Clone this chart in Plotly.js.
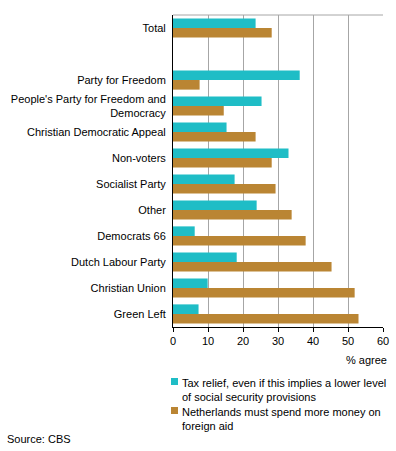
<!DOCTYPE html>
<html><head><meta charset="utf-8">
<script src="https://cdn.plot.ly/plotly-3.0.1.min.js"></script>
<style>html,body{margin:0;padding:0;background:#fff}#c{width:396px;height:451px}</style>
</head><body><div id="c"></div>
<script>
const categories = ["Total", " ", "Party for Freedom", "People's Party for Freedom and<br>Democracy",
  "Christian Democratic Appeal", "Non-voters", "Socialist Party", "Other", "Democrats 66",
  "Dutch Labour Party", "Christian Union", "Green Left"];
const taxRelief = [23.6, null, 36.2, 25.3, 15.3, 33.0, 17.6, 23.9, 6.2, 18.2, 9.9, 7.3];
const foreignAid = [28.2, null, 7.6, 14.5, 23.6, 28.2, 29.3, 33.9, 37.9, 45.3, 51.9, 53.0];
const seriesNames = ["Tax relief, even if this implies a lower level<br>of social security provisions",
  "Netherlands must spend more money on<br>foreign aid"];
const xTicks = [0, 10, 20, 30, 40, 50, 60];
const xAxisLabel = "% agree";
const source = "Source: CBS";
const colors = ["#1FBDC6", "#BA8533"];

const W = 396, H = 451, L = 173, T = 15, PW = 210, PH = 312;
const px = x => (x - L) / PW;
const py = y => (T + PH - y) / PH;
const font = {family: "Arial, 'Liberation Sans', sans-serif", size: 11, color: "#000"};

const traces = [taxRelief, foreignAid].map((vals, i) => ({
  type: "bar", orientation: "h", y: categories, x: vals, name: seriesNames[i],
  marker: {color: colors[i], line: {width: 0}}, showlegend: false, hoverinfo: "x+y"
}));

const annotations = [
  {text: xAxisLabel, xref: "paper", yref: "paper", x: px(389), y: py(360), xanchor: "right", yanchor: "middle", showarrow: false, font},
  {text: source, xref: "paper", yref: "paper", x: px(5), y: py(439), xanchor: "left", yanchor: "middle", showarrow: false, font},
  {text: seriesNames[0], xref: "paper", yref: "paper", x: px(180), y: py(375), xanchor: "left", yanchor: "top", align: "left", showarrow: false, font},
  {text: seriesNames[1], xref: "paper", yref: "paper", x: px(180), y: py(404), xanchor: "left", yanchor: "top", align: "left", showarrow: false, font}
];
const shapes = [
  {type: "line", xref: "paper", yref: "paper", x0: 0, x1: 1, y0: 1, y1: 1, line: {color: "#A6A6A6", width: 1}},
  {type: "rect", xref: "paper", yref: "paper", x0: px(171), x1: px(178), y0: py(378), y1: py(385), fillcolor: colors[0], line: {width: 0}},
  {type: "rect", xref: "paper", yref: "paper", x0: px(171), x1: px(178), y0: py(407), y1: py(414), fillcolor: colors[1], line: {width: 0}}
];

const layout = {
  width: W, height: H, margin: {l: L, r: W - L - PW, t: T, b: H - T - PH, pad: 0},
  paper_bgcolor: "#fff", plot_bgcolor: "#fff", font,
  barmode: "group", bargap: 0.26, bargroupgap: 0, showlegend: false,
  xaxis: {range: [0, 60], tickvals: xTicks, ticktext: xTicks.map(String), showgrid: true, gridcolor: "#A6A6A6", gridwidth: 1,
    zeroline: false, showline: true, linecolor: "#000", linewidth: 1, ticks: "outside", ticklen: 4, tickcolor: "#000",
    tickfont: font, fixedrange: true},
  yaxis: {type: "category", categoryorder: "array", categoryarray: categories, autorange: "reversed",
    showgrid: false, zeroline: false, showline: true, linecolor: "#000", linewidth: 1, ticks: "", tickfont: font,
    ticklabelstandoff: 4, fixedrange: true},
  annotations, shapes
};
Plotly.newPlot("c", traces, layout, {displayModeBar: false, staticPlot: true});
</script></body></html>
